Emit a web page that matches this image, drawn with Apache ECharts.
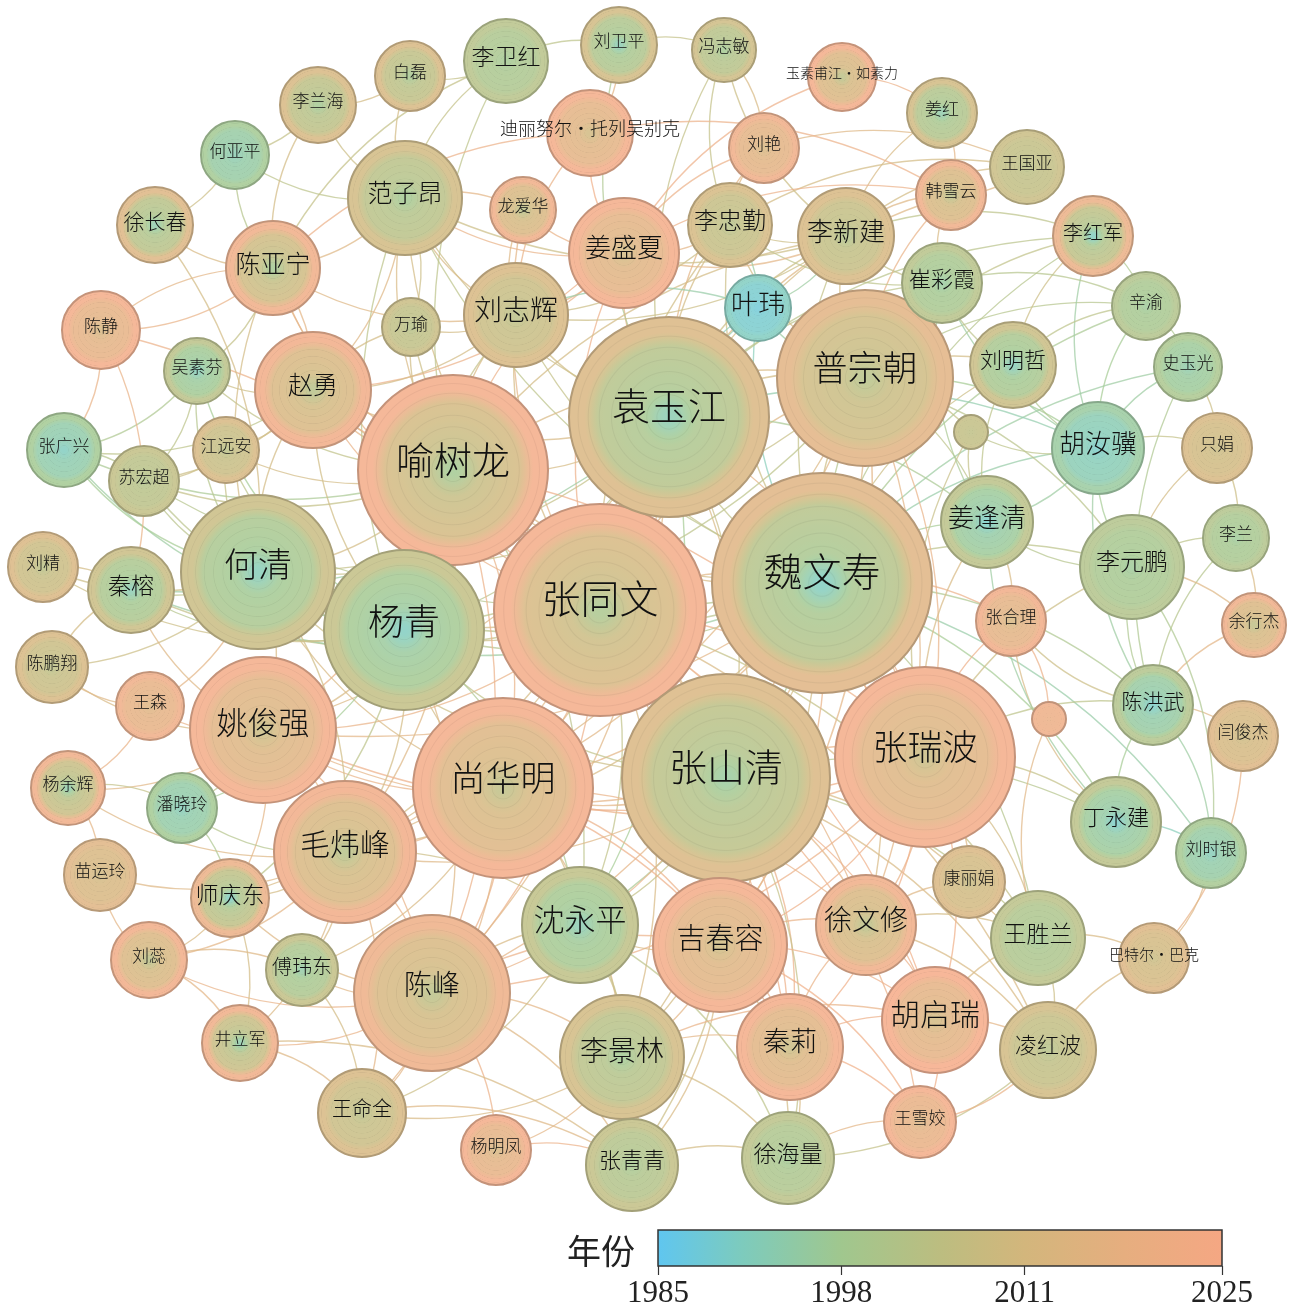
<!DOCTYPE html>
<html><head><meta charset="utf-8">
<script src="https://cdn.jsdelivr.net/npm/echarts@6/dist/echarts.min.js"></script>
<style>html,body{margin:0;padding:0;background:#fff}#main{width:1300px;height:1314px}</style>
</head><body><div id="main"></div>
<script>
// ---------------- data ----------------
const legendYears  = [1985, 1991, 1998, 2005, 2011, 2018, 2025];
const legendColors = ['#5fc6f0', '#7dcbbd', '#a0c78e', '#bcbd80', '#d3b67c', '#e6ae7f', '#f5a783'];
const tickYears = [1985, 1998, 2011, 2025];

const authors = ['张同文','魏文寿','袁玉江','喻树龙','普宗朝','张山清','张瑞波','尚华明','杨青','何清',
 '姚俊强','毛炜峰','陈峰','吉春容','沈永平','李景林','秦莉','徐文修','胡启瑞','王胜兰',
 '凌红波','丁永建','陈洪武','李元鹏','姜逢清','胡汝骥','刘明哲','崔彩霞','李新建','李忠勤',
 '叶玮','姜盛夏','刘志辉','范子昂','龙爱华','万瑜','赵勇','陈亚宁','吴素芬','江远安',
 '苏宏超','张广兴','陈静','徐长春','何亚平','李兰海','白磊','李卫红','刘卫平','冯志敏',
 '玉素甫江·如素力','迪丽努尔·托列吴别克','刘艳','姜红','王国亚','韩雪云','李红军','辛渝','史玉光','只娟',
 '李兰','余行杰','闫俊杰','刘时银','巴特尔·巴克','康丽娟','张合理','_n1','_n2','王雪姣',
 '徐海量','张青青','杨明凤','王命全','井立军','傅玮东','刘蕊','师庆东','苗运玲','潘晓玲',
 '杨余辉','王森','陈鹏翔','秦榕','刘精'];
const nodeX = [600,822,669,453,865,726,925,503,404,258,
 263,345,432,720,580,622,790,866,935,1038,
 1048,1116,1153,1132,987,1098,1013,942,846,730,
 758,624,516,405,523,411,313,273,197,226,
 144,64,101,155,235,318,410,506,619,724,
 842,590,764,942,1027,951,1093,1146,1188,1217,
 1236,1254,1243,1211,1154,969,1011,971,1049,920,
 788,632,496,362,240,302,149,230,100,182,
 68,150,52,131,43];
const nodeY = [610,583,417,470,378,778,757,788,630,572,
 730,852,993,945,925,1057,1047,925,1020,938,
 1050,822,705,567,522,448,365,283,236,225,
 308,253,315,198,210,327,390,268,371,450,
 481,450,330,225,155,105,76,61,45,50,
 77,133,148,113,167,195,236,306,367,448,
 538,625,736,853,958,882,621,432,719,1122,
 1158,1165,1150,1113,1043,970,960,898,875,808,
 788,706,667,590,567];
// node radius (citation frequency scale, in px)
const nodeSize = [106,110,100,95,88,104,90,90,80,77,
 73,71,78,67,58,62,53,50,53,47,
 48,45,40,52,46,46,43,40,48,42,
 33,55,52,57,33,29,58,47,33,33,
 35,37,39,38,34,38,35,42,38,32,
 34,43,35,35,37,35,40,34,34,35,
 33,32,35,35,35,36,35,17,17,36,
 46,46,35,44,38,36,38,39,36,35,
 37,34,36,43,35];
const firstYear = [2000,1991,1993,1998,2003,1996,2008,2005,1991,1992,
 2008,2003,2004,2009,1993,1998,2008,2004,2010,1998,
 2003,1990,1990,1997,1990,1990,1992,1996,2002,2003,
 1988,2010,2004,1998,2004,2003,2003,1998,1992,2004,
 2002,1991,2012,1994,1993,1998,1999,1998,1993,1998,
 2004,2010,2012,1994,2004,2004,1991,1997,1994,2008,
 1997,2005,2009,1992,2008,2008,2012,2005,2020,2014,
 1998,1999,2012,2004,1994,1995,2004,1991,2010,1992,
 1994,2014,2004,1993,2004];
const lastYear = [2024,2015,2013,2024,2016,2013,2024,2024,2006,2008,
 2024,2023,2021,2024,2005,2010,2024,2022,2025,2004,
 2010,2004,2002,2002,2004,1996,2008,2003,2012,2011,
 1991,2024,2012,2010,2022,2008,2023,2022,2004,2012,
 2006,1998,2024,2014,1998,2012,2012,2003,2010,2009,
 2024,2024,2022,2010,2008,2022,2020,2002,2000,2012,
 2002,2022,2014,1999,2014,2013,2023,2007,2022,2024,
 2004,2006,2024,2012,2022,2006,2023,2020,2015,1998,
 2022,2022,2012,2008,2013];

const links = [
 ['张同文','魏文寿',2015],['张同文','袁玉江',2012],['张同文','喻树龙',2018],['张同文','普宗朝',2014],
 ['张同文','张山清',2016],['张同文','张瑞波',2020],['张同文','尚华明',2019],['张同文','杨青',2008],
 ['张同文','何清',2010],['张同文','姚俊强',2019],['张同文','毛炜峰',2015],['张同文','陈峰',2021],
 ['张同文','吉春容',2020],['张同文','沈永平',2005],['张同文','李景林',2012],['张同文','秦莉',2021],
 ['张同文','徐文修',2017],['张同文','胡启瑞',2022],['张同文','刘志辉',2011],['张同文','姜盛夏',2021],
 ['张同文','范子昂',2010],['张同文','赵勇',2018],['张同文','李新建',2011],['张同文','陈亚宁',2019],
 ['张同文','李忠勤',2009],['张同文','叶玮',1994],['张同文','万瑜',2008],['张同文','龙爱华',2016],
 ['张同文','秦榕',2006],['张同文','师庆东',2012],['张同文','王胜兰',2006],['张同文','凌红波',2012],
 ['魏文寿','袁玉江',2005],['魏文寿','喻树龙',2012],['魏文寿','普宗朝',2008],['魏文寿','张山清',2010],
 ['魏文寿','张瑞波',2019],['魏文寿','尚华明',2016],['魏文寿','杨青',2002],['魏文寿','何清',2003],
 ['魏文寿','姚俊强',2016],['魏文寿','毛炜峰',2012],['魏文寿','陈峰',2017],['魏文寿','吉春容',2018],
 ['魏文寿','沈永平',1999],['魏文寿','李景林',2010],['魏文寿','胡汝骥',1995],['魏文寿','姜逢清',1998],
 ['魏文寿','李元鹏',2004],['魏文寿','刘明哲',2008],['魏文寿','崔彩霞',2002],['魏文寿','叶玮',1992],
 ['魏文寿','李新建',2006],['魏文寿','李忠勤',2008],['魏文寿','张合理',2020],['魏文寿','陈洪武',2000],
 ['魏文寿','丁永建',1998],['魏文寿','秦榕',1996],['魏文寿','史玉光',1996],['魏文寿','刘志辉',2006],
 ['魏文寿','范子昂',2004],['魏文寿','赵勇',2010],['魏文寿','徐文修',2012],['魏文寿','刘时银',1995],
 ['魏文寿','辛渝',1999],['魏文寿','李红军',2002],['魏文寿','王胜兰',2002],['魏文寿','苏宏超',2002],
 ['袁玉江','喻树龙',2011],['袁玉江','普宗朝',2010],['袁玉江','张山清',2008],['袁玉江','张瑞波',2017],
 ['袁玉江','尚华明',2014],['袁玉江','杨青',2003],['袁玉江','何清',2006],['袁玉江','姚俊强',2013],
 ['袁玉江','陈峰',2015],['袁玉江','李新建',2008],['袁玉江','李忠勤',2010],['袁玉江','叶玮',1992],
 ['袁玉江','姜盛夏',2019],['袁玉江','刘志辉',2009],['袁玉江','范子昂',2008],['袁玉江','崔彩霞',2004],
 ['袁玉江','李红军',2003],['袁玉江','刘卫平',2000],['袁玉江','冯志敏',2006],['袁玉江','刘艳',2016],
 ['袁玉江','毛炜峰',2011],['袁玉江','赵勇',2012],['袁玉江','胡汝骥',1994],['袁玉江','姜逢清',1999],
 ['袁玉江','吉春容',2012],['袁玉江','沈永平',1998],['袁玉江','秦榕',1996],['袁玉江','韩雪云',2014],
 ['喻树龙','普宗朝',2012],['喻树龙','张山清',2013],['喻树龙','尚华明',2018],['喻树龙','杨青',2007],
 ['喻树龙','何清',2010],['喻树龙','姚俊强',2018],['喻树龙','毛炜峰',2014],['喻树龙','陈峰',2020],
 ['喻树龙','赵勇',2017],['喻树龙','陈亚宁',2016],['喻树龙','范子昂',2012],['喻树龙','刘志辉',2012],
 ['喻树龙','姜盛夏',2020],['喻树龙','万瑜',2009],['喻树龙','吴素芬',2005],['喻树龙','江远安',2010],
 ['喻树龙','李卫红',2004],['喻树龙','张瑞波',2021],['喻树龙','吉春容',2019],['喻树龙','秦莉',2021],
 ['喻树龙','李新建',2010],['喻树龙','苏宏超',2006],['喻树龙','张广兴',1999],['喻树龙','沈永平',2004],
 ['普宗朝','张山清',2014],['普宗朝','张瑞波',2018],['普宗朝','李新建',2010],['普宗朝','崔彩霞',2006],
 ['普宗朝','刘明哲',2010],['普宗朝','胡汝骥',1998],['普宗朝','姜逢清',2004],['普宗朝','叶玮',1996],
 ['普宗朝','韩雪云',2018],['普宗朝','李红军',2005],['普宗朝','尚华明',2015],['普宗朝','吉春容',2016],
 ['普宗朝','徐文修',2016],['普宗朝','_n1',2006],['普宗朝','李元鹏',2003],['普宗朝','李忠勤',2010],
 ['普宗朝','杨青',2004],['普宗朝','何清',2007],['普宗朝','毛炜峰',2013],['普宗朝','辛渝',2002],
 ['张山清','张瑞波',2018],['张山清','尚华明',2016],['张山清','吉春容',2019],['张山清','秦莉',2020],
 ['张山清','徐文修',2016],['张山清','胡启瑞',2021],['张山清','沈永平',2006],['张山清','李景林',2010],
 ['张山清','陈峰',2018],['张山清','毛炜峰',2014],['张山清','杨青',2005],['张山清','何清',2008],
 ['张山清','徐海量',2006],['张山清','王胜兰',2004],['张山清','凌红波',2012],['张山清','姚俊强',2017],
 ['张山清','张青青',2008],['张山清','康丽娟',2012],['张山清','王雪姣',2020],['张山清','丁永建',2002],
 ['张瑞波','尚华明',2020],['张瑞波','吉春容',2021],['张瑞波','徐文修',2019],['张瑞波','胡启瑞',2022],
 ['张瑞波','姜逢清',2012],['张瑞波','张合理',2021],['张瑞波','康丽娟',2014],['张瑞波','丁永建',2006],
 ['张瑞波','_n1',2007],['张瑞波','陈峰',2020],['张瑞波','秦莉',2022],['张瑞波','李元鹏',2008],
 ['张瑞波','陈洪武',2004],['张瑞波','王胜兰',2010],['张瑞波','姚俊强',2021],
 ['尚华明','杨青',2010],['尚华明','姚俊强',2019],['尚华明','毛炜峰',2017],['尚华明','陈峰',2020],
 ['尚华明','吉春容',2020],['尚华明','沈永平',2010],['尚华明','李景林',2014],['尚华明','秦莉',2021],
 ['尚华明','何清',2012],['尚华明','傅玮东',2012],['尚华明','王命全',2016],['尚华明','徐文修',2018],
 ['杨青','何清',2002],['杨青','姚俊强',2012],['杨青','毛炜峰',2010],['杨青','陈峰',2014],
 ['杨青','沈永平',2000],['杨青','秦榕',2002],['杨青','苏宏超',2003],['杨青','潘晓玲',1998],
 ['杨青','师庆东',2004],['杨青','赵勇',2009],['杨青','张广兴',1996],['杨青','吴素芬',1998],
 ['杨青','刘志辉',2006],['杨青','范子昂',2004],['杨青','江远安',2004],['杨青','刘精',2008],
 ['何清','姚俊强',2012],['何清','秦榕',2004],['何清','刘精',2008],['何清','苏宏超',2003],
 ['何清','张广兴',1998],['何清','江远安',2006],['何清','吴素芬',2002],['何清','陈鹏翔',2008],
 ['何清','赵勇',2010],['何清','毛炜峰',2009],['何清','王森',2016],['何清','陈亚宁',2010],
 ['姚俊强','毛炜峰',2016],['姚俊强','王森',2019],['姚俊强','陈峰',2019],['姚俊强','杨余辉',2015],
 ['姚俊强','秦榕',2014],['姚俊强','潘晓玲',2004],['姚俊强','陈鹏翔',2012],['姚俊强','师庆东',2016],
 ['毛炜峰','陈峰',2018],['毛炜峰','师庆东',2010],['毛炜峰','傅玮东',2012],['毛炜峰','刘蕊',2016],
 ['毛炜峰','潘晓玲',2002],['毛炜峰','苗运玲',2014],['毛炜峰','井立军',2013],['毛炜峰','沈永平',2008],
 ['毛炜峰','杨余辉',2014],['毛炜峰','王命全',2016],
 ['陈峰','王命全',2016],['陈峰','傅玮东',2015],['陈峰','杨明凤',2020],['陈峰','李景林',2016],
 ['陈峰','沈永平',2012],['陈峰','吉春容',2020],['陈峰','刘蕊',2018],['陈峰','师庆东',2014],
 ['陈峰','井立军',2018],['陈峰','张青青',2014],
 ['吉春容','秦莉',2021],['吉春容','李景林',2016],['吉春容','徐文修',2019],['吉春容','胡启瑞',2021],
 ['吉春容','沈永平',2012],['吉春容','徐海量',2010],['吉春容','王雪姣',2022],['吉春容','张青青',2012],
 ['沈永平','李景林',2006],['沈永平','张青青',2008],['沈永平','徐海量',2004],['沈永平','王命全',2008],
 ['李景林','张青青',2010],['李景林','徐海量',2010],['李景林','秦莉',2016],['李景林','王命全',2012],
 ['李景林','杨明凤',2016],['李景林','胡启瑞',2018],
 ['秦莉','胡启瑞',2021],['秦莉','徐海量',2012],['秦莉','王雪姣',2022],['秦莉','徐文修',2018],
 ['胡启瑞','王雪姣',2022],['胡启瑞','凌红波',2016],['胡启瑞','王胜兰',2012],
 ['徐文修','胡启瑞',2020],['徐文修','王胜兰',2010],['徐文修','康丽娟',2014],['徐文修','凌红波',2012],
 ['王胜兰','凌红波',2008],['王胜兰','巴特尔·巴克',2012],['王胜兰','_n2',2015],['王胜兰','康丽娟',2012],
 ['凌红波','徐海量',2006],['凌红波','巴特尔·巴克',2012],['凌红波','王雪姣',2018],
 ['丁永建','刘时银',1992],['丁永建','陈洪武',1998],['丁永建','张合理',2012],['丁永建','姜逢清',1996],
 ['陈洪武','李元鹏',2000],['陈洪武','胡汝骥',1996],['陈洪武','李兰',2002],['陈洪武','史玉光',2000],
 ['陈洪武','刘时银',1996],['陈洪武','余行杰',2016],['陈洪武','闫俊杰',2014],['陈洪武','张合理',2008],
 ['李元鹏','姜逢清',2002],['李元鹏','胡汝骥',1998],['李元鹏','余行杰',2014],['李元鹏','只娟',2010],
 ['李元鹏','李兰',2004],['李元鹏','刘时银',2000],
 ['胡汝骥','姜逢清',1996],['胡汝骥','史玉光',1996],['胡汝骥','辛渝',1998],['胡汝骥','刘明哲',2000],
 ['胡汝骥','李红军',1996],['胡汝骥','_n1',2004],['胡汝骥','只娟',2006],['胡汝骥','崔彩霞',1996],
 ['姜逢清','刘明哲',2004],['姜逢清','张合理',2012],['姜逢清','_n1',2006],['姜逢清','崔彩霞',1999],
 ['刘明哲','崔彩霞',2004],['刘明哲','辛渝',2004],['刘明哲','李红军',2008],
 ['崔彩霞','李新建',2006],['崔彩霞','韩雪云',2012],['崔彩霞','辛渝',2002],['崔彩霞','李忠勤',2004],
 ['李新建','李忠勤',2008],['李新建','韩雪云',2014],['李新建','王国亚',2010],['李新建','姜红',2012],
 ['李新建','叶玮',1996],['李新建','姜盛夏',2016],['李新建','李红军',2004],['李新建','冯志敏',2008],
 ['李新建','刘志辉',2008],['李新建','范子昂',2008],
 ['李忠勤','刘艳',2014],['李忠勤','冯志敏',2006],['李忠勤','姜盛夏',2016],['李忠勤','王国亚',2010],
 ['李忠勤','叶玮',1996],['李忠勤','刘志辉',2008],
 ['姜盛夏','刘艳',2020],['姜盛夏','迪丽努尔·托列吴别克',2022],['姜盛夏','龙爱华',2018],['姜盛夏','刘志辉',2016],
 ['姜盛夏','玉素甫江·如素力',2021],['姜盛夏','韩雪云',2020],['姜盛夏','范子昂',2018],['姜盛夏','赵勇',2020],
 ['刘志辉','范子昂',2012],['刘志辉','万瑜',2010],['刘志辉','龙爱华',2014],['刘志辉','陈亚宁',2014],
 ['刘志辉','迪丽努尔·托列吴别克',2018],['刘志辉','赵勇',2010],['刘志辉','叶玮',1995],
 ['范子昂','陈亚宁',2014],['范子昂','龙爱华',2016],['范子昂','李卫红',2006],['范子昂','白磊',2010],
 ['范子昂','赵勇',2014],['范子昂','何亚平',2004],['范子昂','万瑜',2008],['范子昂','李兰海',2008],
 ['陈亚宁','赵勇',2016],['陈亚宁','徐长春',2012],['陈亚宁','李卫红',2006],['陈亚宁','何亚平',2002],
 ['陈亚宁','陈静',2018],['陈亚宁','李兰海',2010],['陈亚宁','迪丽努尔·托列吴别克',2020],['陈亚宁','吴素芬',2006],
 ['赵勇','吴素芬',2008],['赵勇','江远安',2012],['赵勇','万瑜',2010],['赵勇','苏宏超',2008],['赵勇','张广兴',2004],
 ['吴素芬','张广兴',2000],['吴素芬','苏宏超',2004],['江远安','苏宏超',2008],['张广兴','苏宏超',2002],
 ['陈静','张广兴',2018],['陈静','秦榕',2018],['陈静','张山清',2020],['刘精','秦榕',2010],['陈鹏翔','秦榕',2010],
 ['王森','陈鹏翔',2014],['杨余辉','潘晓玲',2006],['杨余辉','苗运玲',2016],['潘晓玲','师庆东',2000],
 ['师庆东','刘蕊',2012],['师庆东','井立军',2010],['刘蕊','苗运玲',2016],['刘蕊','傅玮东',2014],
 ['井立军','王命全',2014],['井立军','张青青',2012],['王命全','张青青',2014],['杨明凤','张青青',2020],
 ['张青青','徐海量',2010],['徐海量','王雪姣',2016],['李卫红','刘卫平',2004],['李卫红','白磊',2006],
 ['刘卫平','冯志敏',2006],['刘卫平','迪丽努尔·托列吴别克',2016],['白磊','李兰海',2010],['李兰海','何亚平',2006],
 ['何亚平','徐长春',2008],['玉素甫江·如素力','姜红',2020],['姜红','韩雪云',2016],['王国亚','韩雪云',2014],
 ['李红军','辛渝',2000],['辛渝','史玉光',2000],['史玉光','只娟',2008],['只娟','李兰',2008],
 ['李兰','余行杰',2012],['闫俊杰','巴特尔·巴克',2018],['刘时银','巴特尔·巴克',2014],['张合理','_n2',2020],
 ['刘艳','王国亚',2014],['迪丽努尔·托列吴别克','韩雪云',2020],['冯志敏','刘艳',2012],['徐长春','何清',2010],
 ['陈静','陈亚宁',2016],['王森','杨余辉',2018],['傅玮东','王命全',2010],['刘蕊','井立军',2016]
];

// ---------------- styles ----------------
const labelFont = {'张同文':39,'魏文寿':39,'袁玉江':38,'喻树龙':38,'普宗朝':35,'张山清':38,'张瑞波':35,'尚华明':35,
 '杨青':36,'何清':34,'姚俊强':31,'毛炜峰':30,'陈峰':28,'吉春容':29,'沈永平':31,'李景林':28,'秦莉':27,'徐文修':28,
 '胡启瑞':30,'王胜兰':23,'凌红波':22,'丁永建':22,'陈洪武':21,'李元鹏':24,'姜逢清':26,'胡汝骥':26,'刘明哲':22,
 '崔彩霞':22,'李新建':26,'李忠勤':24,'叶玮':27,'姜盛夏':26,'刘志辉':28,'范子昂':25,'赵勇':25,'陈亚宁':25,
 '秦榕':23,'师庆东':23,'徐长春':21,'李卫红':23,'徐海量':23,'张青青':22,'王命全':20,'傅玮东':20,'李红军':20,
 '玉素甫江·如素力':14,'迪丽努尔·托列吴别克':18,'巴特尔·巴克':15};

function hex2rgb(h){return [parseInt(h.slice(1,3),16),parseInt(h.slice(3,5),16),parseInt(h.slice(5,7),16)];}
const legendRgb = legendColors.map(hex2rgb);
function yearRgb(y){
  if (y <= legendYears[0]) return legendRgb[0].slice();
  for (let i = 1; i < legendYears.length; i++) {
    if (y <= legendYears[i]) {
      const t = (y - legendYears[i-1]) / (legendYears[i] - legendYears[i-1]);
      return legendRgb[i-1].map((c, k) => c + (legendRgb[i][k] - c) * t);
    }
  }
  return legendRgb[legendRgb.length-1].slice();
}
function rgbStr(c, a, f){ f = f || 1; return 'rgba(' + c.map(v => Math.round(Math.min(255, v*f))).join(',') + ',' + (a == null ? 1 : a) + ')'; }
function soften(c, k){ k = k == null ? 0.18 : k; return c.map(v => v + (255 - v) * k); }

// radial profile: fraction of radius -> fraction of the node's year span
const profF = [0, 0.06, 0.28, 0.7, 0.84, 1];
const profG = [0, 0, 0.35, 0.5, 1, 1];
function profile(f){
  for (let i = 1; i < profF.length; i++) {
    if (f <= profF[i]) { const t = (f - profF[i-1]) / (profF[i] - profF[i-1]); return profG[i-1] + (profG[i] - profG[i-1]) * t; }
  }
  return 1;
}
function nodeGradient(y0, y1){
  const stops = [];
  const rings = [0.12, 0.22, 0.33, 0.45, 0.57, 0.69, 0.8, 0.9];
  const pts = [];
  for (let i = 0; i <= 25; i++) pts.push(i / 25);
  rings.forEach(r => { pts.push(r - 0.01); pts.push(r); pts.push(r + 0.01); });
  pts.sort((a, b) => a - b);
  pts.forEach(f => {
    const yr = y0 + (y1 - y0) * profile(f);
    const c = soften(yearRgb(yr));
    const isRing = rings.some(r => Math.abs(r - f) < 1e-6);
    stops.push({offset: f, color: rgbStr(c, 1, isRing ? 0.95 : 1)});
  });
  return {type: 'radial', x: 0.5, y: 0.5, r: 0.5, colorStops: stops};
}

const nodes = authors.map((name, i) => {
  const outer = soften(yearRgb(lastYear[i]));
  const hidden = name.charAt(0) === '_';
  return {
    name: name,
    value: [nodeX[i], nodeY[i]],
    symbolSize: nodeSize[i] * 2,
    itemStyle: {color: nodeGradient(firstYear[i], lastYear[i]), borderColor: rgbStr(outer, 1, 0.8), borderWidth: 2},
    label: {show: !hidden, fontSize: labelFont[name] || 17, offset: [0, -Math.round(nodeSize[i] * 0.11)]}
  };
});

const edges = links.map(l => ({
  source: l[0], target: l[1],
  lineStyle: {color: rgbStr(soften(yearRgb(l[2]), 0.1), 1), opacity: 0.75, width: 1.4, curveness: 0.2}
}));

const chart = echarts.init(document.getElementById('main'), null, {renderer: 'canvas'});
chart.setOption({
  backgroundColor: '#ffffff',
  animation: false,
  title: {text: '年份', left: 562, top: 1229,
    textStyle: {fontSize: 34, fontWeight: 'normal', color: '#222', fontFamily: "'Noto Sans CJK SC', sans-serif"}},
  grid: [
    {left: 0, top: 0, width: 1300, height: 1314, show: false},
    {left: 658, top: 1230, width: 564, height: 36, show: true, borderColor: '#333', borderWidth: 1.5,
     backgroundColor: {type: 'linear', x: 0, y: 0, x2: 1, y2: 0,
       colorStops: legendYears.map((y, i) => ({offset: (y - legendYears[0]) / (legendYears[legendYears.length-1] - legendYears[0]), color: legendColors[i]}))}}
  ],
  xAxis: [
    {gridIndex: 0, type: 'value', min: 0, max: 1300, show: false},
    {gridIndex: 1, type: 'value', min: tickYears[0], max: tickYears[tickYears.length-1],
     axisLine: {show: false}, splitLine: {show: false},
     axisTick: {show: true, customValues: tickYears, length: 9, lineStyle: {color: '#333', width: 1.2}},
     axisLabel: {customValues: tickYears, margin: 12, fontSize: 31, color: '#222',
       fontFamily: "'Liberation Serif', 'Times New Roman', serif", formatter: v => String(v)}}
  ],
  yAxis: [
    {gridIndex: 0, type: 'value', min: 0, max: 1314, inverse: true, show: false},
    {gridIndex: 1, type: 'value', min: 0, max: 1, show: false}
  ],
  series: [
    {
      type: 'graph', layout: 'none', coordinateSystem: 'cartesian2d', xAxisIndex: 0, yAxisIndex: 0,
      roam: false, symbol: 'circle',
      label: {show: true, position: 'inside', color: '#111', fontFamily: "'Noto Sans CJK SC', sans-serif", fontWeight: 300},
      emphasis: {disabled: true},
      data: nodes, links: edges, z: 2
    },
    {type: 'scatter', xAxisIndex: 1, yAxisIndex: 1, data: [], silent: true}
  ]
});
</script></body></html>
